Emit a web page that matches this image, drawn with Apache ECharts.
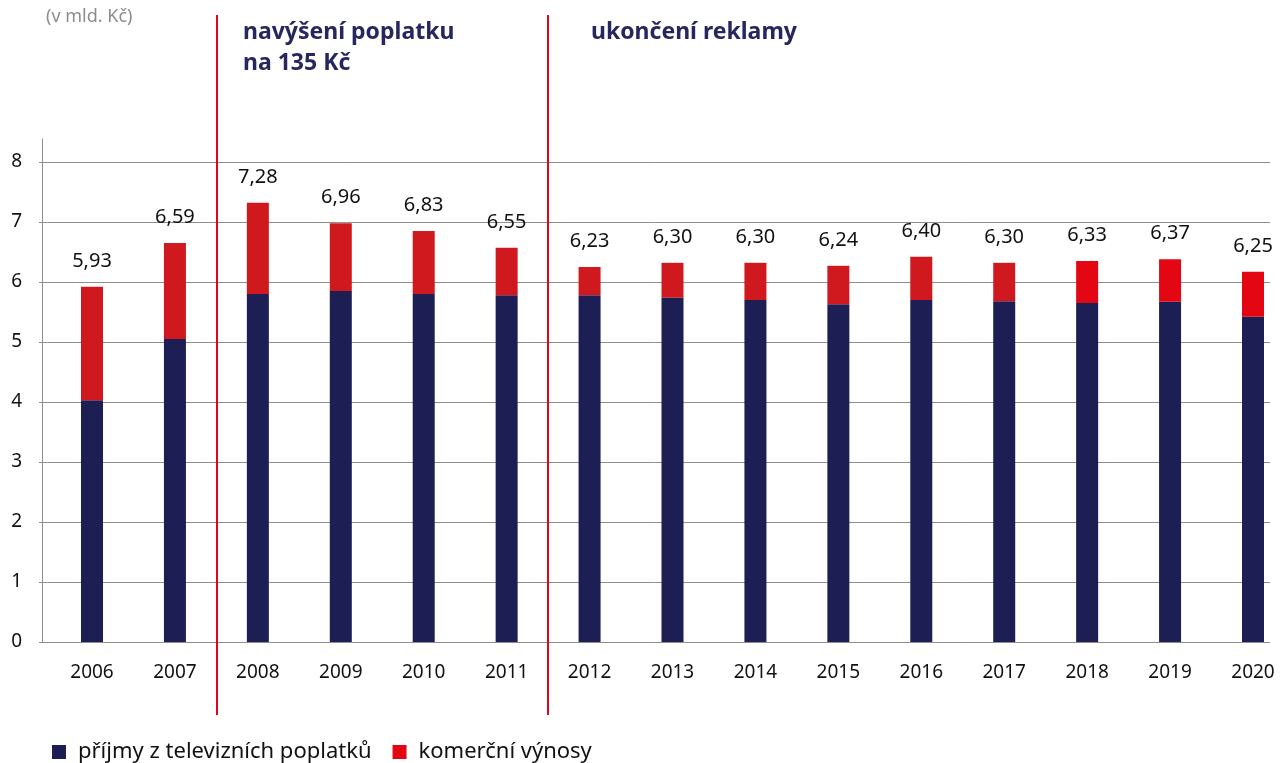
<!DOCTYPE html>
<html style="height: 100%">

<head>
    <meta charset="utf-8">
</head>

<body style="height: 100%; margin: 0; background: #fff">
    <div id="main" style="width: 1283px; height: 763px"></div>
    <script src="https://cdn.jsdelivr.net/npm/echarts@6/dist/echarts.min.js"></script>
    <script type="text/javascript">

        var years = ['2006', '2007', '2008', '2009', '2010', '2011', '2012', '2013',
            '2014', '2015', '2016', '2017', '2018', '2019', '2020'];
        // prijmy z televiznich poplatku (navy part)
        var fees = [4.03, 5.05, 5.80, 5.85, 5.80, 5.78, 5.78, 5.74, 5.70, 5.63, 5.70, 5.68, 5.65, 5.67, 5.42];
        // komercni vynosy (red part)
        var commercial = [1.89, 1.60, 1.52, 1.13, 1.05, 0.79, 0.47, 0.58, 0.62, 0.64, 0.72, 0.64, 0.70, 0.71, 0.75];
        // totals printed above the bars
        var totals = [5.93, 6.59, 7.28, 6.96, 6.83, 6.55, 6.23, 6.30, 6.30, 6.24, 6.40, 6.30, 6.33, 6.37, 6.25];
        // events marked by vertical lines (position between categories)
        var events = [
            { at: 1.5, text: 'navýšení poplatku\nna 135 Kč' },
            { at: 5.5, text: 'ukončení reklamy' }
        ];

        var FONT = '"Noto Sans", "Open Sans", sans-serif';
        var NAVY = '#1d1e54';
        var RED = '#e30613';
        var OLD_RED = '#d0191e';

        var chartDom = document.getElementById('main');
        var myChart = echarts.init(chartDom);

        var commercialData = commercial.map(function (v, i) {
            return {
                value: v,
                itemStyle: { color: +years[i] < 2018 ? OLD_RED : RED }
            };
        });

        var option = {
            animation: false,
            textStyle: { fontFamily: FONT },
            title: [
                {
                    text: '(v mld. Kč)',
                    left: 46, top: 8, padding: 0,
                    textStyle: { fontSize: 18, fontWeight: 'normal', color: '#8c8c8c', fontFamily: FONT }
                },
                {
                    text: events[0].text,
                    left: 243, top: 17, padding: 0,
                    textStyle: { fontSize: 23, fontWeight: 'bold', color: '#26275e', lineHeight: 31, fontFamily: FONT }
                },
                {
                    text: events[1].text,
                    left: 591, top: 17, padding: 0,
                    textStyle: { fontSize: 23, fontWeight: 'bold', color: '#26275e', lineHeight: 31, fontFamily: FONT }
                }
            ],
            legend: {
                left: 52, bottom: 0, padding: 0,
                icon: 'rect',
                itemWidth: 14, itemHeight: 14,
                itemGap: 21,
                textStyle: { fontSize: 22, color: '#111', padding: [0, 0, 0, 7], fontFamily: FONT },
                data: [
                    { name: 'příjmy z televizních poplatků', itemStyle: { color: NAVY } },
                    { name: 'komerční výnosy', itemStyle: { color: RED } }
                ]
            },
            grid: [
                // gridlines + y labels
                { left: 39, right: 13, top: 162, bottom: 121 },
                // bars
                { left: 92, right: 30, top: 162, bottom: 121 },
                // event lines
                { left: 92, right: 30, top: 15, bottom: 48 },
                // y axis line
                { left: 42, width: 10, top: 139, bottom: 121 }
            ],
            xAxis: [
                { gridIndex: 0, type: 'value', show: false },
                {
                    gridIndex: 1, type: 'category', data: years, boundaryGap: false,
                    axisLine: { show: false }, axisTick: { show: false },
                    axisLabel: { fontSize: 19, color: '#111', margin: 21, fontFamily: FONT }
                },
                { gridIndex: 2, type: 'value', min: 0, max: years.length - 1, show: false },
                { gridIndex: 3, type: 'value', show: false }
            ],
            yAxis: [
                {
                    gridIndex: 0, type: 'value', min: 0, max: 8, interval: 1,
                    axisLine: { show: false }, axisTick: { show: false },
                    axisLabel: { fontSize: 19, color: '#111', margin: 17, fontFamily: FONT },
                    splitLine: { lineStyle: { color: '#8e8e8e', width: 1 } }
                },
                { gridIndex: 1, type: 'value', min: 0, max: 8, show: false },
                { gridIndex: 2, type: 'value', min: 0, max: 1, show: false },
                {
                    gridIndex: 3, type: 'value', min: 0, max: 1,
                    axisLine: { show: true, lineStyle: { color: '#8e8e8e', width: 1 } },
                    axisTick: { show: false }, axisLabel: { show: false }, splitLine: { show: false }
                }
            ],
            series: [
                {
                    name: 'příjmy z televizních poplatků',
                    type: 'bar', stack: 'total',
                    xAxisIndex: 1, yAxisIndex: 1,
                    barWidth: 22,
                    itemStyle: { color: NAVY },
                    data: fees
                },
                {
                    name: 'komerční výnosy',
                    type: 'bar', stack: 'total',
                    xAxisIndex: 1, yAxisIndex: 1,
                    barWidth: 22,
                    itemStyle: { color: RED },
                    label: {
                        show: true, position: 'top', distance: 16,
                        fontSize: 20, color: '#111', fontFamily: FONT,
                        formatter: function (p) {
                            return totals[p.dataIndex].toFixed(2).replace('.', ',');
                        }
                    },
                    data: commercialData
                },
                {
                    type: 'scatter',
                    xAxisIndex: 2, yAxisIndex: 2,
                    symbolSize: 0,
                    data: [],
                    markLine: {
                        silent: true,
                        symbol: 'none',
                        label: { show: false },
                        lineStyle: { color: '#e3061a', width: 2, type: 'solid' },
                        data: events.map(function (e) { return { xAxis: e.at }; })
                    }
                }
            ]
        };

        myChart.setOption(option);

    </script>
</body>

</html>
